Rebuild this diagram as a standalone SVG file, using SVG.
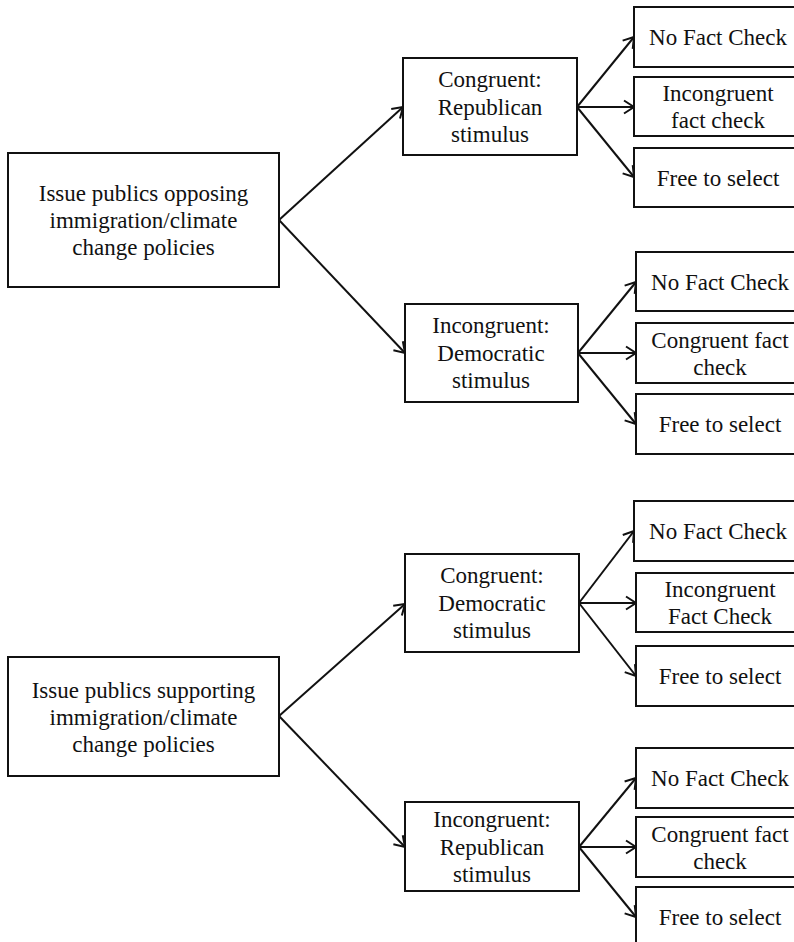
<svg xmlns="http://www.w3.org/2000/svg" width="794" height="942" viewBox="0 0 794 942">
<defs>
<marker id="ah" markerUnits="userSpaceOnUse" markerWidth="16" markerHeight="16" viewBox="-12 -8 14 16" refX="0" refY="0" orient="auto">
<path d="M-10,-6.5 L0,0 L-10,6.5" fill="none" stroke="#111" stroke-width="2"/>
</marker>
</defs>
<style>
rect{fill:#fff;stroke:#111;stroke-width:2}
text{font-family:'Liberation Serif','Times New Roman',serif;font-size:23px;fill:#111;text-anchor:middle}
.c line{stroke:#111;stroke-width:2;marker-end:url(#ah)}
</style>
<rect x="0" y="0" width="794" height="942" style="stroke:none"/>
<g class="c" id="connectors">
<line x1="279" y1="220" x2="403" y2="107"/>
<line x1="279" y1="220" x2="405" y2="353"/>
<line x1="577" y1="107" x2="634" y2="37"/>
<line x1="577" y1="107" x2="634" y2="107"/>
<line x1="577" y1="107" x2="634" y2="177"/>
<line x1="578" y1="353" x2="636" y2="282"/>
<line x1="578" y1="353" x2="636" y2="353"/>
<line x1="578" y1="353" x2="636" y2="424"/>
<line x1="279" y1="716" x2="405" y2="604"/>
<line x1="279" y1="716" x2="405" y2="847"/>
<line x1="579" y1="603" x2="634" y2="531"/>
<line x1="579" y1="603" x2="636" y2="603"/>
<line x1="579" y1="603" x2="636" y2="676"/>
<line x1="579" y1="847" x2="636" y2="778"/>
<line x1="579" y1="847" x2="636" y2="847"/>
<line x1="579" y1="847" x2="636" y2="917"/>
</g>
<g id="opp"><rect x="8" y="153" width="271" height="134"/><text x="143.5" y="201">Issue publics opposing</text><text x="143.5" y="228">immigration/climate</text><text x="143.5" y="255">change policies</text></g>
<g id="congRep"><rect x="403" y="58" width="174" height="97"/><text x="490" y="87">Congruent:</text><text x="490" y="115">Republican</text><text x="490" y="142">stimulus</text></g>
<g id="incDem"><rect x="405" y="304" width="173" height="98"/><text x="491" y="333">Incongruent:</text><text x="491" y="361">Democratic</text><text x="491" y="388">stimulus</text></g>
<g id="a1"><rect x="634" y="7" width="170" height="60"/><text x="718" y="45">No Fact Check</text></g>
<g id="a2"><rect x="634" y="77" width="170" height="59"/><text x="718" y="101">Incongruent</text><text x="718" y="128">fact check</text></g>
<g id="a3"><rect x="634" y="148" width="170" height="59"/><text x="718" y="186">Free to select</text></g>
<g id="b1"><rect x="636" y="252" width="170" height="59"/><text x="720" y="290">No Fact Check</text></g>
<g id="b2"><rect x="636" y="323" width="170" height="60"/><text x="720" y="348">Congruent fact</text><text x="720" y="375">check</text></g>
<g id="b3"><rect x="636" y="394" width="170" height="60"/><text x="720" y="432">Free to select</text></g>
<g id="sup"><rect x="8" y="657" width="271" height="119"/><text x="143.5" y="698">Issue publics supporting</text><text x="143.5" y="725">immigration/climate</text><text x="143.5" y="752">change policies</text></g>
<g id="congDem"><rect x="405" y="554" width="174" height="98"/><text x="492" y="583">Congruent:</text><text x="492" y="611">Democratic</text><text x="492" y="638">stimulus</text></g>
<g id="incRep"><rect x="405" y="802" width="174" height="89"/><text x="492" y="827">Incongruent:</text><text x="492" y="855">Republican</text><text x="492" y="882">stimulus</text></g>
<g id="c1"><rect x="634" y="501" width="170" height="60"/><text x="718" y="539">No Fact Check</text></g>
<g id="c2"><rect x="636" y="573" width="170" height="59"/><text x="720" y="597">Incongruent</text><text x="720" y="624">Fact Check</text></g>
<g id="c3"><rect x="636" y="646" width="170" height="60"/><text x="720" y="684">Free to select</text></g>
<g id="d1"><rect x="636" y="748" width="170" height="60"/><text x="720" y="786">No Fact Check</text></g>
<g id="d2"><rect x="636" y="817" width="170" height="60"/><text x="720" y="842">Congruent fact</text><text x="720" y="869">check</text></g>
<g id="d3"><rect x="636" y="887" width="170" height="70"/><text x="720" y="925">Free to select</text></g>
</svg>
